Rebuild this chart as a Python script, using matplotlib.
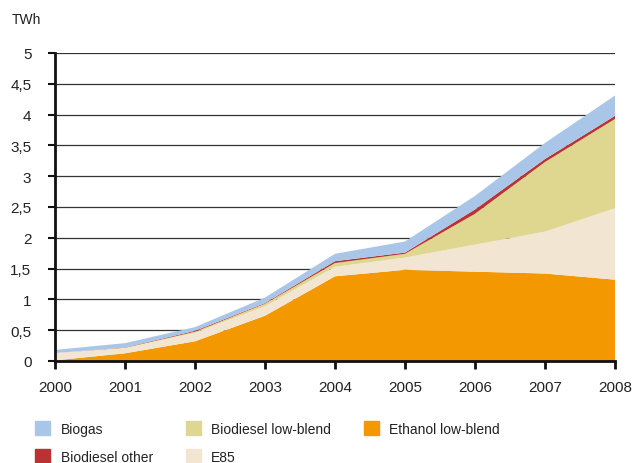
import numpy as np
import matplotlib.pyplot as plt
from matplotlib.patches import Patch

plt.rcParams["font.family"] = ["Liberation Sans", "DejaVu Sans"]

# === 数据（TWh）===
years = [2000, 2001, 2002, 2003, 2004, 2005, 2006, 2007, 2008]
ethanol_low = [0.01, 0.125, 0.32, 0.735, 1.375, 1.48, 1.45, 1.42, 1.32]
e85 = [0.12, 0.085, 0.14, 0.155, 0.155, 0.20, 0.44, 0.68, 1.16]
biodiesel_low = [0.0, 0.005, 0.015, 0.04, 0.06, 0.06, 0.50, 1.13, 1.45]
biodiesel_other = [0.0, 0.005, 0.015, 0.01, 0.03, 0.02, 0.07, 0.05, 0.05]
biogas = [0.05, 0.07, 0.06, 0.09, 0.12, 0.18, 0.22, 0.26, 0.33]

y_ticks = [0, 0.5, 1, 1.5, 2, 2.5, 3, 3.5, 4, 4.5, 5]
y_tick_labels = ["0", "0,5", "1", "1,5", "2", "2,5", "3", "3,5", "4", "4,5", "5"]

c_ethanol = "#f39800"
c_e85 = "#f2e6d2"
c_bd_low = "#dfd68f"
c_bd_other = "#b93333"
c_biogas = "#a9c6e8"
text_color = "#222222"
font_size = 10

# === 画布 ===
W, H = 641, 464
fig = plt.figure(figsize=(W / 100, H / 100), dpi=100)
ax = fig.add_axes([55 / W, 1 - 362 / H, 560 / W, 308 / H])

# 堆叠面积
ax.stackplot(
    years, ethanol_low, e85, biodiesel_low, biodiesel_other, biogas,
    colors=[c_ethanol, c_e85, c_bd_low, c_bd_other, c_biogas],
    linewidth=0, zorder=3,
)

# === 坐标设置 ===
ax.set_xlim(2000, 2008)
ax.set_ylim(0, 5)
ax.set_xticks(years)
ax.set_yticks(y_ticks)
ax.set_yticklabels(y_tick_labels)
ax.grid(axis="y", color="#333333", linewidth=0.9, zorder=1)
ax.set_axisbelow(True)

for side in ["top", "right"]:
    ax.spines[side].set_visible(False)
for side in ["left", "bottom"]:
    ax.spines[side].set_linewidth(2)
    ax.spines[side].set_color("#111111")
    ax.spines[side].set_zorder(5)

ax.tick_params(axis="x", direction="out", length=6, width=2, color="#111111",
               pad=8, labelsize=font_size + 1, labelcolor=text_color)
ax.tick_params(axis="y", direction="out", length=5, width=1.5, color="#111111",
               pad=12, labelsize=font_size + 1, labelcolor=text_color)

# y 轴单位
fig.text(12 / W, 1 - 20 / H, "TWh", fontsize=font_size, color=text_color,
         va="center", ha="left")

# === 图例 ===
handles = [
    Patch(color=c_biogas, label="Biogas"),
    Patch(color=c_bd_other, label="Biodiesel other"),
    Patch(color=c_bd_low, label="Biodiesel low-blend"),
    Patch(color=c_e85, label="E85"),
    Patch(color=c_ethanol, label="Ethanol low-blend"),
]
leg = fig.legend(
    handles=handles, ncol=3, loc="upper left",
    bbox_to_anchor=(35 / W, 1 - 422 / H), frameon=False,
    fontsize=font_size, borderpad=0, borderaxespad=0,
    handlelength=1.1, handleheight=1.2, handletextpad=0.75,
    columnspacing=2.35, labelspacing=0.95,
)
for t in leg.get_texts():
    t.set_color(text_color)

plt.savefig("out.png", dpi=100)
